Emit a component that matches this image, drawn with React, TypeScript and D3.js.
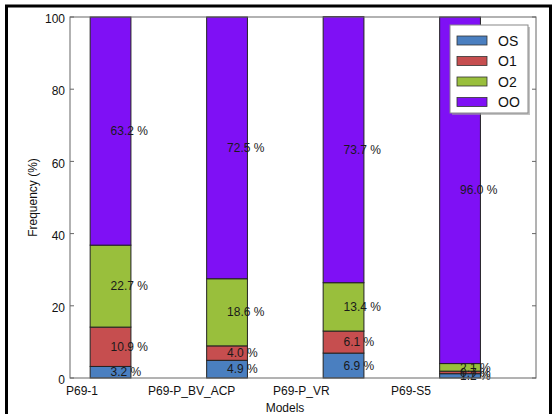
import React from "react";
import * as d3 from "d3";

const categories = ["P69-1", "P69-P_BV_ACP", "P69-P_VR", "P69-S5"];
const seriesNames = ["OS", "O1", "O2", "OO"];
const OS = [3.2, 4.9, 6.9, 1.2];
const O1 = [10.9, 4.0, 6.1, 0.7];
const O2 = [22.7, 18.6, 13.4, 2.1];
const OO = [63.2, 72.5, 73.7, 96.0];
const yTicks = [0, 20, 40, 60, 80, 100];
const colors = ["#4a7fc0", "#c64e4f", "#99bf3c", "#7f10f5"];

const W = 554;
const H = 414;
const FONT = "Liberation Sans, Arial, Helvetica, sans-serif";

export default function App() {
  const rows = categories.map((c, i) => ({
    cat: c,
    idx: i + 1,
    OS: OS[i],
    O1: O1[i],
    O2: O2[i],
    OO: OO[i],
  }));
  const stack = d3.stack<any>().keys(seriesNames)(rows);

  const x = d3.scaleLinear().domain([0.652, 4.652]).range([70, 536]);
  const xLab = d3.scaleLinear().domain([1, 4]).range([82, 411]);
  const y = d3.scaleLinear().domain([0, 100]).range([378, 17]);
  const bw = x(1.35) - x(1);

  const [x0, x1] = x.range();
  const [yb, yt] = y.range();

  return (
    <svg
      width={W}
      height={H}
      style={{ position: "absolute", left: 0, top: 0, background: "#fff" }}
      fontFamily={FONT}
    >
      <rect x={0} y={0} width={W} height={H} fill="#fff" />
      {/* outer frame */}
      <rect x={6.5} y={6} width={544} height={420} fill="none" stroke="#000" strokeWidth={3} />

      {/* bars */}
      {stack.map((layer, si) =>
        layer.map((d, ci) => (
          <rect
            key={`${si}-${ci}`}
            x={x(ci + 1) - bw / 2}
            y={y(d[1])}
            width={bw}
            height={Math.max(0, y(d[0]) - y(d[1]))}
            fill={colors[si]}
            stroke="#222"
            strokeWidth={1}
          />
        ))
      )}

      {/* value labels */}
      {stack.map((layer, si) =>
        layer.map((d, ci) => (
          <text
            key={`t${si}-${ci}`}
            x={x(ci + 1)}
            y={y((d[0] + d[1]) / 2)}
            dy="0.35em"
            fontSize={12}
            fill="#1a1a1a"
          >
            {`${(d[1] - d[0]).toFixed(1)} %`}
          </text>
        ))
      )}

      {/* axes box */}
      <rect x={x0} y={yt} width={x1 - x0} height={yb - yt} fill="none" stroke="#666" strokeWidth={1} />

      {/* y ticks */}
      {yTicks.map((t) => (
        <g key={`yt${t}`}>
          <line x1={x0} x2={x0 + 4} y1={y(t)} y2={y(t)} stroke="#666" />
          <line x1={x1} x2={x1 - 4} y1={y(t)} y2={y(t)} stroke="#666" />
          <text x={65} y={y(t) + 2} dy="0.35em" textAnchor="end" fontSize={12} fill="#111">
            {t}
          </text>
        </g>
      ))}

      {/* x tick labels */}
      {categories.map((c, i) => (
        <text key={c} x={xLab(i + 1)} y={395} textAnchor="middle" fontSize={12} fill="#111">
          {c}
        </text>
      ))}

      <text x={285} y={412} textAnchor="middle" fontSize={12} fill="#111">
        Models
      </text>
      <text
        transform={`translate(37,${(yb + yt) / 2}) rotate(-90)`}
        textAnchor="middle"
        fontSize={12}
        fill="#111"
      >
        Frequency (%)
      </text>

      {/* legend */}
      <g>
        <rect x={452} y={27} width={78} height={88} fill="#999" opacity={0.6} />
        <rect x={450} y={25} width={78} height={88} fill="#fff" stroke="#888" strokeWidth={1} />
        {seriesNames.map((s, i) => (
          <g key={s} transform={`translate(457,${36 + i * 20.5})`}>
            <rect x={0} y={0} width={30} height={9} fill={colors[i]} stroke="#333" strokeWidth={0.8} />
            <text x={41} y={5} dy="0.35em" fontSize={14} fill="#111">
              {s}
            </text>
          </g>
        ))}
      </g>
    </svg>
  );
}
